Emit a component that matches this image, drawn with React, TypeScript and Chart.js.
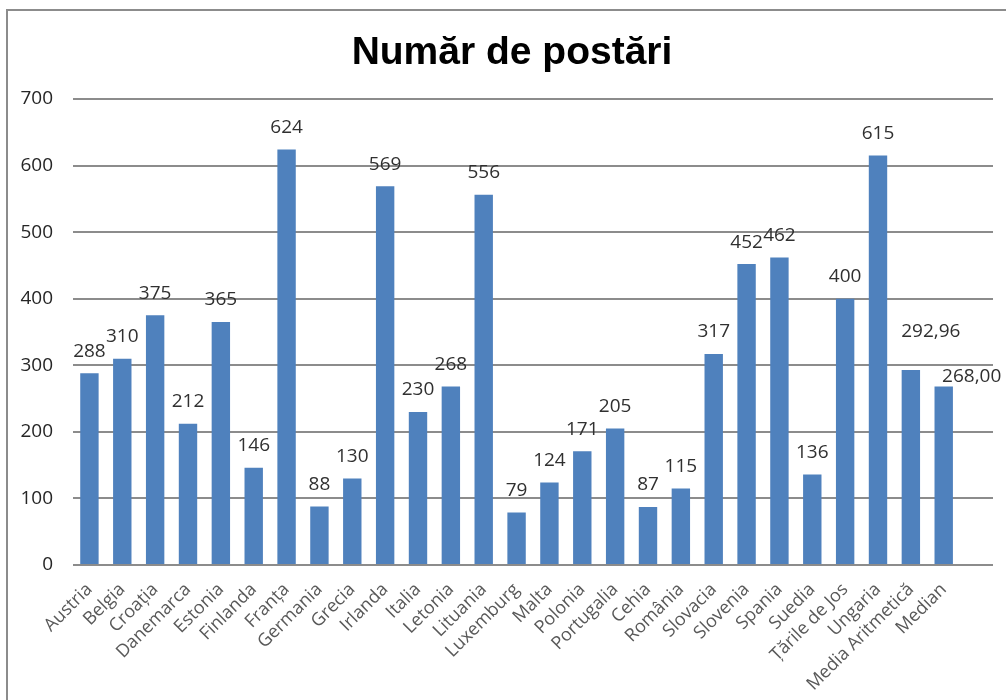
import React, { useEffect, useRef } from "react";
import { Chart, registerables } from "chart.js";

Chart.register(...registerables);

const titleText = "Număr de postări";

const categories = [
  "Austria", "Belgia", "Croația", "Danemarca", "Estonia", "Finlanda", "Franța",
  "Germania", "Grecia", "Irlanda", "Italia", "Letonia", "Lituania", "Luxemburg",
  "Malta", "Polonia", "Portugalia", "Cehia", "România", "Slovacia", "Slovenia",
  "Spania", "Suedia", "Țările de Jos", "Ungaria", "Media Aritmetică", "Median", "",
];

const postCounts: (number | null)[] = [
  288, 310, 375, 212, 365, 146, 624, 88, 130, 569, 230, 268, 556, 79,
  124, 171, 205, 87, 115, 317, 452, 462, 136, 400, 615, 292.96, 268, null,
];

const summaryCategories = ["Media Aritmetică", "Median"];

const yTicks = [0, 100, 200, 300, 400, 500, 600, 700];

// label nudges (dx, dy in px) for the manually-moved summary labels
const labelNudges: Record<string, [number, number]> = {
  "Media Aritmetică": [20, -16],
  "Median": [28, 12],
};

const formatValue = (v: number, cat: string) =>
  summaryCategories.includes(cat) ? v.toFixed(2).replace(".", ",") : String(Math.round(v));

const valueLabelPlugin = {
  id: "valueLabels",
  afterDatasetsDraw(chart: any) {
    const ctx = chart.ctx;
    const meta = chart.getDatasetMeta(0);
    ctx.save();
    ctx.font = "19px 'Open Sans'";
    ctx.fillStyle = "#303030";
    ctx.textAlign = "center";
    ctx.textBaseline = "middle";
    meta.data.forEach((el: any, i: number) => {
      const v = postCounts[i];
      if (v === null || v === undefined) return;
      const cat = categories[i];
      const [dx, dy] = labelNudges[cat] || [0, 0];
      ctx.fillText(formatValue(v, cat), el.x + dx, el.y - 22 + dy);
    });
    ctx.restore();
  },
};

const centeredTitlePlugin = {
  id: "centeredTitle",
  afterDraw(chart: any) {
    const ctx = chart.ctx;
    ctx.save();
    ctx.font = "bold 39px 'Liberation Sans', Arial, sans-serif";
    ctx.fillStyle = "#000000";
    ctx.textAlign = "center";
    ctx.textBaseline = "alphabetic";
    ctx.fillText(titleText, 512, 64);
    ctx.restore();
  },
};

export default function App() {
  const canvasRef = useRef<HTMLCanvasElement | null>(null);

  useEffect(() => {
    if (!canvasRef.current) return;
    const chart = new Chart(canvasRef.current, {
      type: "bar",
      data: {
        labels: categories,
        datasets: [
          {
            data: postCounts as any,
            backgroundColor: "#4F81BD",
            borderWidth: 0,
            barPercentage: 0.56,
            categoryPercentage: 1,
          },
        ],
      },
      options: {
        responsive: false,
        animation: false,
        layout: { padding: { left: 0, right: 13, top: 99, bottom: 0 } },
        plugins: {
          legend: { display: false },
          tooltip: { enabled: false },
          title: { display: false },
        },
        scales: {
          x: {
            grid: { display: false },
            border: { display: false },
            ticks: {
              autoSkip: false,
              maxRotation: 45,
              minRotation: 45,
              padding: 6,
              color: "#595959",
              font: { family: "'Open Sans', sans-serif", size: 18 },
            },
            afterFit: (scale: any) => {
              scale.height = 135;
            },
          },
          y: {
            min: 0,
            max: 700,
            border: { display: false },
            grid: { color: "#8c8c8c", lineWidth: 2, drawTicks: false },
            afterBuildTicks: (scale: any) => {
              scale.ticks = yTicks.map((v) => ({ value: v }));
            },
            ticks: {
              padding: 20,
              color: "#262626",
              font: { family: "'Open Sans', sans-serif", size: 19 },
            },
            afterFit: (scale: any) => {
              scale.width = 73;
            },
          },
        },
      },
      plugins: [valueLabelPlugin, centeredTitlePlugin],
    });
    return () => chart.destroy();
  }, []);

  return (
    <div style={{ position: "absolute", left: 0, top: 0, width: 1006, height: 700, overflow: "hidden", background: "#fff" }}>
      <div
        style={{
          position: "absolute",
          left: 6,
          top: 9,
          width: 1030,
          height: 730,
          border: "2px solid #8c8c8c",
          boxSizing: "border-box",
        }}
      />
      <canvas ref={canvasRef} width={1006} height={700} style={{ position: "absolute", left: 0, top: 0 }} />
    </div>
  );
}
